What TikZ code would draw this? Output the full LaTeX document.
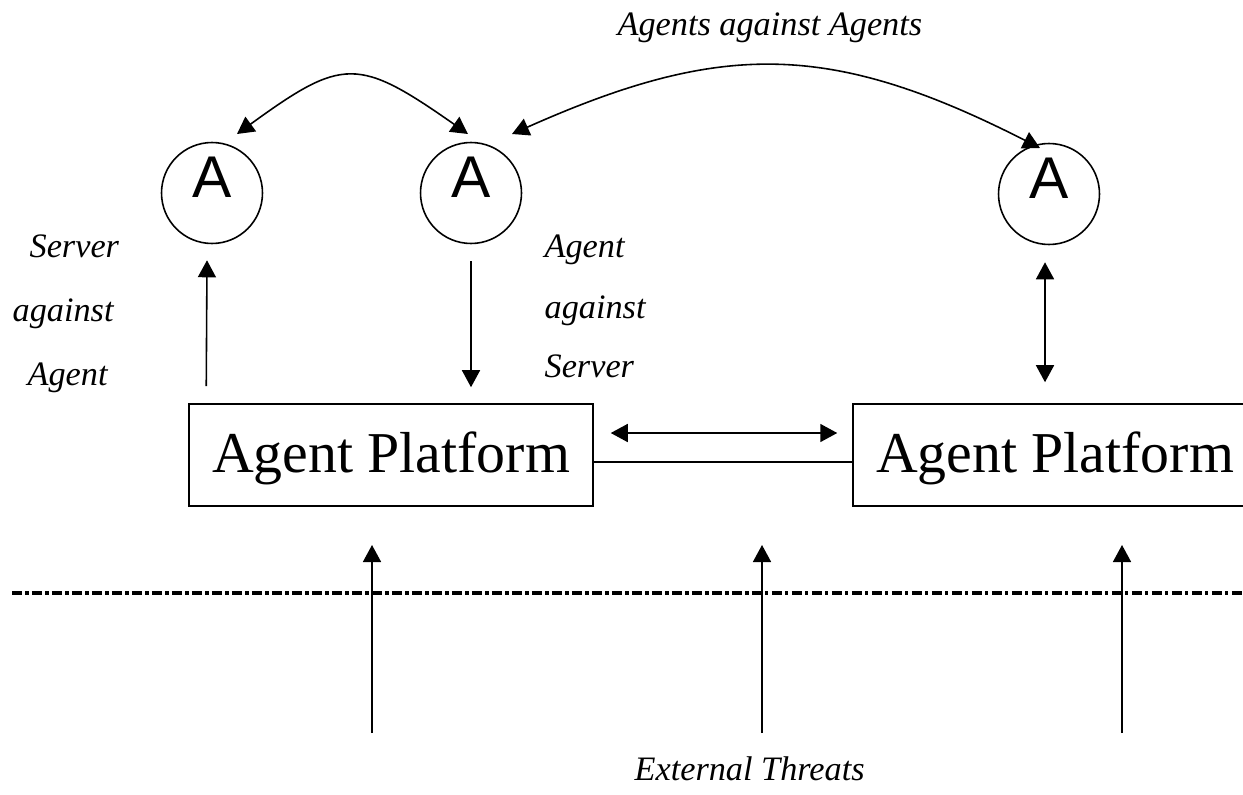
\documentclass[tikz,border=0pt]{standalone}
\usepackage{fontspec}
\setmainfont{Liberation Serif}
\newfontfamily\agentfont{Liberation Sans}
\usepackage{tikz}
\usetikzlibrary{arrows.meta, positioning, calc}

\tikzset{
  tip/.style={-{Triangle[length=3.4mm,width=3.6mm]}},
  dtip/.style={{Triangle[length=3.4mm,width=3.6mm]}-{Triangle[length=3.4mm,width=3.6mm]}},
  agent/.style={draw, circle, minimum size=2.02cm, inner sep=0pt,
    font=\agentfont\fontsize{33.5}{33.5}\selectfont, text depth=0.62cm},
  platform/.style={draw, rectangle, minimum width=8.08cm, minimum height=2.04cm,
    inner sep=0pt, font=\fontsize{32.9}{32.9}\selectfont, text depth=0.1cm},
  threat/.style={anchor=base west, font=\itshape\fontsize{19.5}{19.5}\selectfont}
}

\begin{document}
\begin{tikzpicture}[x=0.02cm, y=-0.02cm, line width=0.9pt]
  \useasboundingbox (0,0) rectangle (1243,794);

  % agents and platforms
  \node[agent] (a1) at (212,193) {A};
  \node[agent] (a2) at (471,193) {A};
  \node[agent] (a3) at (1049,194) {A};
  \node[platform] (lp) at (391,455) {Agent Platform};
  \node[platform] (rp) at (1055,455) {Agent Platform};

  % agents against agents
  \draw[dtip] ($(a1.center)+(25,-59)$) .. controls ($(a1.center)+(131,-136)$) and ($(a2.center)+(-113,-136)$) .. ($(a2.center)+(-3,-59)$);
  \draw[dtip] ($(a2.center)+(41,-59)$) .. controls ($(a2.center)+(250,-152)$) and ($(a3.center)+(-219,-153)$) .. ($(a3.center)+(-9,-46)$);
  \node[threat] (aa) at (611,36) {Agents against Agents};

  % server against agent, agent against server
  \draw[tip] ($(lp.north west)+(18,-17)$) -- ($(a1.south)+(-5,16)$);
  \draw[tip] ($(a2.south)+(0,17)$) -- ($(a2.south |- lp.north)+(0,-16)$);
  \draw[dtip] ($(a3.south)+(-4,17)$) -- ($(a3.south |- rp.north)+(-4,-21)$);
  \node[threat] (sa1) at (23,257) {Server};
  \node[threat] (sa2) at (6,321) {against};
  \node[threat] (sa3) at (21,385) {Agent};
  \node[threat] (as1) at (538,257) {Agent};
  \node[threat] (as2) at (538,318) {against};
  \node[threat] (as3) at (538,377) {Server};

  % link between platforms
  \draw ([yshift=-1.4mm]lp.east) -- ([yshift=-1.4mm]rp.west);
  \draw[dtip] ([xshift=3.4mm,yshift=4.4mm]lp.east) -- ([xshift=-3mm,yshift=4.4mm]rp.west);

  % boundary
  \coordinate (bl) at (12,593);
  \coordinate (br) at (1243,593);
  \draw[line width=2pt, dash pattern=on 0.2cm off 0.067cm on 0.066cm off 0.067cm] (bl) -- (br);

  % external threats
  \foreach \x/\n in {372/t1, 762/t2, 1122/t3} {
    \coordinate (\n s) at (\x,733);
    \coordinate (\n e) at (\x,545);
    \draw[tip] (\n s) -- (\n e);
  }
  \node[threat] (et) at (628,780) {External Threats};
\end{tikzpicture}
\end{document}
